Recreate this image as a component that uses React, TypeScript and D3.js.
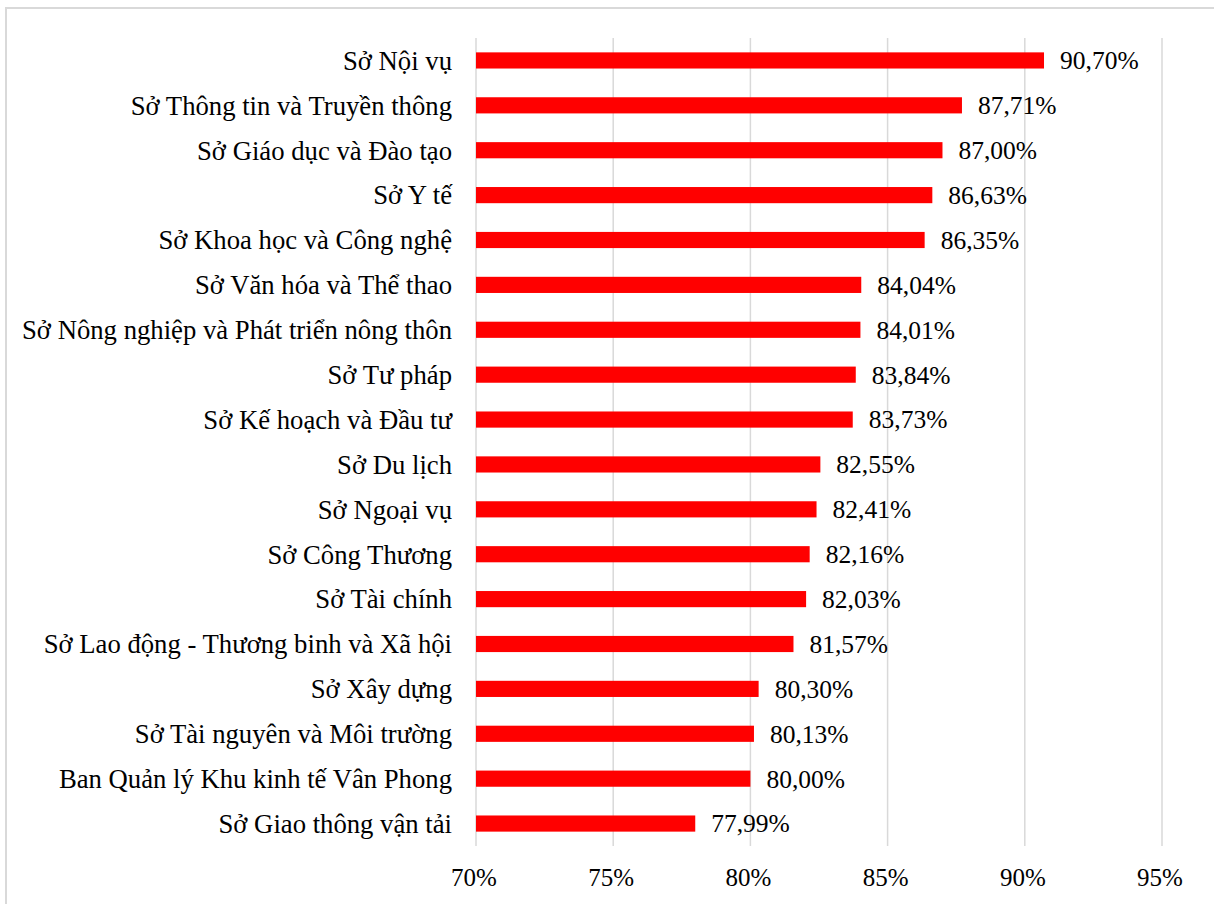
import React, { useRef, useEffect } from 'react';
import * as d3 from 'd3';

const categories = [
    "Sở Nội vụ",
    "Sở Thông tin và Truyền thông",
    "Sở Giáo dục và Đào tạo",
    "Sở Y tế",
    "Sở Khoa học và Công nghệ",
    "Sở Văn hóa và Thể thao",
    "Sở Nông nghiệp và Phát triển nông thôn",
    "Sở Tư pháp",
    "Sở Kế hoạch và Đầu tư",
    "Sở Du lịch",
    "Sở Ngoại vụ",
    "Sở Công Thương",
    "Sở Tài chính",
    "Sở Lao động - Thương binh và Xã hội",
    "Sở Xây dựng",
    "Sở Tài nguyên và Môi trường",
    "Ban Quản lý Khu kinh tế Vân Phong",
    "Sở Giao thông vận tải",
];

const values = [90.70, 87.71, 87.00, 86.63, 86.35, 84.04, 84.01, 83.84, 83.73, 82.55, 82.41, 82.16, 82.03, 81.57, 80.30, 80.13, 80.00, 77.99];

const xTicks = [70, 75, 80, 85, 90, 95];

const W = 1214;
const H = 904;
const FONT = "Liberation Serif, Times New Roman, DejaVu Serif, serif";

const App: React.FC = () => {
    const svgRef = useRef<SVGSVGElement>(null);

    useEffect(() => {
        if (!svgRef.current) return;
        const svg = d3.select(svgRef.current);
        svg.selectAll("*").remove();

        const data = categories.map((c, i) => ({ label: c, value: values[i] }));

        // chart border (only top/left visible in frame)
        svg.append("rect")
            .attr("x", 6).attr("y", 8)
            .attr("width", W + 20).attr("height", H + 20)
            .attr("fill", "white")
            .attr("stroke", "#d9d9d9")
            .attr("stroke-width", 2);

        const left = 476, right = 1162, top = 38, bottom = 846;

        const x = d3.scaleLinear().domain([70, 95]).range([left, right]);
        const y = d3.scaleBand()
            .domain(categories)
            .range([top, bottom])
            .paddingInner(0.64)
            .paddingOuter(0.32);

        const g = svg.append("g").style("font-family", FONT).style("font-size", "25px");

        // grid lines
        g.append("g")
            .selectAll("line")
            .data(xTicks)
            .enter().append("line")
            .attr("x1", d => x(d)).attr("x2", d => x(d))
            .attr("y1", top).attr("y2", bottom)
            .attr("stroke", "#d9d9d9")
            .attr("stroke-width", 1.5);

        // bars
        g.append("g")
            .selectAll("rect")
            .data(data)
            .enter().append("rect")
            .attr("x", x(70))
            .attr("y", d => y(d.label)!)
            .attr("width", d => x(d.value) - x(70))
            .attr("height", y.bandwidth())
            .attr("fill", "#ff0000");

        // value labels
        g.append("g")
            .selectAll("text")
            .data(data)
            .enter().append("text")
            .attr("x", d => x(d.value) + 16)
            .attr("y", d => y(d.label)! + y.bandwidth() / 2)
            .attr("dy", "0.35em")
            .style("font-size", "25.5px")
            .attr("fill", "#000")
            .text(d => d.value.toFixed(2).replace(".", ",") + "%");

        // category labels
        g.append("g")
            .selectAll("text")
            .data(data)
            .enter().append("text")
            .attr("x", left - 24)
            .attr("y", d => y(d.label)! + y.bandwidth() / 2)
            .attr("dy", "0.35em")
            .attr("text-anchor", "end")
            .style("font-size", "26.7px")
            .attr("fill", "#000")
            .text(d => d.label);

        // x tick labels
        g.append("g")
            .selectAll("text")
            .data(xTicks)
            .enter().append("text")
            .attr("x", d => x(d) - 2)
            .attr("y", 886)
            .attr("text-anchor", "middle")
            .attr("fill", "#000")
            .text(d => d + "%");
    }, []);

    return (
        <div style={{ position: "fixed", left: 0, top: 0, width: W, height: H, background: "white" }}>
            <svg ref={svgRef} width={W} height={H} viewBox={`0 0 ${W} ${H}`} />
        </div>
    );
};

export default App;
